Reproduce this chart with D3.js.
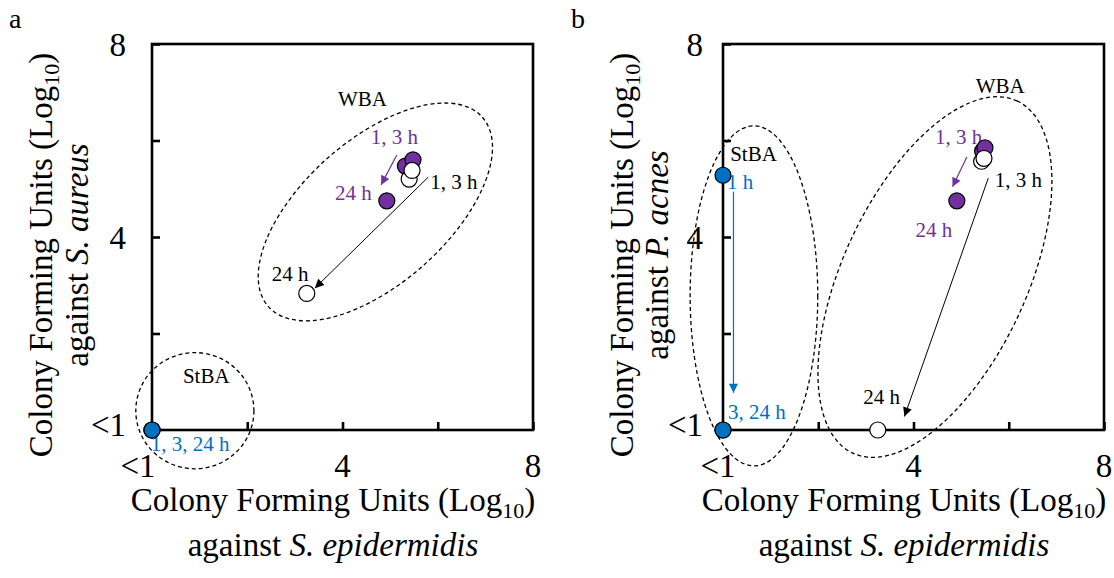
<!DOCTYPE html>
<html><head><meta charset="utf-8">
<script src="https://cdn.jsdelivr.net/npm/d3@7"></script>
<style>
body{margin:0;background:#fff;}
svg text{font-family:'Liberation Serif','Times New Roman','DejaVu Serif',serif;}
</style></head><body>
<svg id="chart" width="1114" height="578" font-family="Liberation Serif, Times New Roman, serif"></svg>
<script>
// ---------- data ----------
const timePoints = ["1 h", "3 h", "24 h"];
const tickValues = [0, 2, 4, 6, 8];
const xTickLabels = ["<1", "", "4", "", "8"];
const yTickLabels = ["<1", "", "4", "", "8"];

// Panel a: x = CFU vs S. epidermidis, y = CFU vs S. aureus (log10)
const aPurpleX = [5.48, 5.32, 4.93];
const aPurpleY = [5.60, 5.47, 4.75];
const aWhiteX  = [5.46, 5.40, 3.25];
const aWhiteY  = [5.38, 5.20, 2.83];
const aBlueX   = [0, 0, 0];
const aBlueY   = [0, 0, 0];

// Panel b: x = CFU vs S. epidermidis, y = CFU vs P. acnes (log10)
const bPurpleX = [5.50, 5.45, 4.91];
const bPurpleY = [5.85, 5.78, 4.75];
const bWhiteX  = [5.48, 5.43, 3.25];
const bWhiteY  = [5.63, 5.57, 0];
const bBlueX   = [0, 0, 0];
const bBlueY   = [5.28, 0, 0];

const PURPLE = "#7030A0", BLUE = "#0070C0";
const FONT = "'Liberation Serif','Times New Roman',serif";
const AX_FS = 33, ANN_FS = 21;

const svg = d3.select("#chart");
const defs = svg.append("defs");
[["black","#000"],["purple",PURPLE],["blue",BLUE]].forEach(([id,c])=>{
  defs.append("marker").attr("id","ah-"+id)
    .attr("viewBox","0 0 10 10").attr("refX",10).attr("refY",5)
    .attr("markerWidth",12).attr("markerHeight",9)
    .attr("markerUnits","userSpaceOnUse").attr("orient","auto")
    .append("path").attr("d","M0,0L10,5L0,10Z").attr("fill",c);
});

const panels = [
  {
    letter:"a", letterX:9, left:152, top:44, w:381, h:386,
    yOrg:"aureus", ySpecies:"S. ", yTitleX:[52, 88], yTitleY:255,
    xLabelShift:-14, yLabelRight:126, xTitleX:333,
    purple:[aPurpleX,aPurpleY], white:[aWhiteX,aWhiteY], blue:[aBlueX,aBlueY],
    ellipses:[
      {cx:4.69, cy:4.52, a:3.00, b:1.51, rot:-41.5},
      {cx:0.90, cy:0.40, a:1.24, b:1.22, rot:0}
    ],
    texts:[
      {t:"WBA", x:4.42, y:6.86, c:"#000"},
      {t:"1, 3 h", x:5.09, y:6.07, c:PURPLE},
      {t:"24 h", x:4.23, y:4.91, c:PURPLE},
      {t:"1, 3 h", x:6.34, y:5.15, c:"#000"},
      {t:"24 h", x:2.90, y:3.25, c:"#000"},
      {t:"StBA", x:1.14, y:1.12, c:"#000"},
      {t:"1, 3, 24 h", x:0.80, y:-0.29, c:BLUE}
    ],
    arrows:[
      {x1:5.14, y1:5.70, x2:4.81, y2:5.08, c:"purple", col:PURPLE, w:1.2},
      {x1:5.80, y1:5.24, x2:3.42, y2:2.94, c:"black", col:"#000", w:1}
    ]
  },
  {
    letter:"b", letterX:571, left:723, top:44, w:381, h:386,
    yOrg:"acnes", ySpecies:"P. ", yTitleX:[633, 668], yTitleY:255,
    xLabelShift:-5, yLabelRight:703, xTitleX:904,
    purple:[bPurpleX,bPurpleY], white:[bWhiteX,bWhiteY], blue:[bBlueX,bBlueY],
    ellipses:[
      {cx:4.45, cy:3.17, a:4.08, b:1.93, rot:-65},
      {cx:0.65, cy:2.78, a:1.34, b:3.57, rot:0}
    ],
    texts:[
      {t:"WBA", x:5.82, y:7.13, c:"#000"},
      {t:"1, 3 h", x:4.95, y:6.08, c:PURPLE},
      {t:"24 h", x:4.43, y:4.15, c:PURPLE},
      {t:"1, 3 h", x:6.20, y:5.18, c:"#000"},
      {t:"24 h", x:3.33, y:0.70, c:"#000"},
      {t:"StBA", x:0.64, y:5.72, c:"#000"},
      {t:"1 h", x:0.36, y:5.14, c:BLUE},
      {t:"3, 24 h", x:0.71, y:0.38, c:BLUE}
    ],
    arrows:[
      {x1:5.12, y1:5.66, x2:4.82, y2:5.04, c:"purple", col:PURPLE, w:1.2},
      {x1:5.57, y1:5.22, x2:3.81, y2:0.28, c:"black", col:"#000", w:1},
      {x1:0.22, y1:4.94, x2:0.22, y2:0.77, c:"blue", col:BLUE, w:1.2}
    ]
  }
];

function T(sel){ return sel.append("text").attr("font-family",FONT); }

panels.forEach(p=>{
  const x = d3.scaleLinear().domain([0,8]).range([p.left, p.left+p.w]);
  const y = d3.scaleLinear().domain([0,8]).range([p.top+p.h, p.top]);
  const g = svg.append("g");
  const ux = x(1)-x(0);

  T(svg).attr("x", p.letterX).attr("y",28).attr("font-size",28).text(p.letter);

  p.ellipses.forEach(e=>{
    const cx=x(e.cx), cy=y(e.cy);
    g.append("ellipse").attr("cx",cx).attr("cy",cy)
      .attr("rx",e.a*ux).attr("ry",e.b*ux)
      .attr("transform",`rotate(${e.rot},${cx},${cy})`)
      .attr("fill","none").attr("stroke","#000").attr("stroke-width",1.3)
      .attr("stroke-dasharray","4,3");
  });

  g.append("rect").attr("x",p.left).attr("y",p.top).attr("width",p.w).attr("height",p.h)
    .attr("fill","none").attr("stroke","#000").attr("stroke-width",2.6);

  const xAxis = d3.axisTop(x).tickValues(tickValues).tickSize(8).tickFormat("");
  const gx = g.append("g").attr("transform",`translate(0,${p.top+p.h})`).call(xAxis);
  gx.select(".domain").remove();
  gx.selectAll("line").attr("stroke","#000").attr("stroke-width",2.6);
  const yAxis = d3.axisRight(y).tickValues(tickValues).tickSize(8).tickFormat("");
  const gy = g.append("g").attr("transform",`translate(${p.left},0)`).call(yAxis);
  gy.select(".domain").remove();
  gy.selectAll("line").attr("stroke","#000").attr("stroke-width",2.6);

  tickValues.forEach((v,i)=>{
    if(xTickLabels[i]) T(g).attr("x", x(v)+(i===0?p.xLabelShift:0)).attr("y", p.top+p.h+47)
      .attr("text-anchor","middle").attr("font-size",AX_FS).text(xTickLabels[i]);
    if(yTickLabels[i]) T(g).attr("x", p.yLabelRight).attr("y", y(v)+(i===0?-6:0))
      .attr("dy","0.35em").attr("text-anchor","end").attr("font-size",AX_FS).text(yTickLabels[i]);
  });

  const xt1 = T(g).attr("x",p.xTitleX).attr("y",511).attr("text-anchor","middle").attr("font-size",AX_FS);
  xt1.append("tspan").text("Colony Forming Units (Log");
  xt1.append("tspan").attr("font-size",22).attr("dy",7).text("10");
  xt1.append("tspan").attr("dy",-7).text(")");
  const xt2 = T(g).attr("x",p.xTitleX).attr("y",556).attr("text-anchor","middle").attr("font-size",AX_FS);
  xt2.append("tspan").text("against ");
  xt2.append("tspan").attr("font-style","italic").text("S. epidermidis");

  const yt1 = T(g).attr("transform",`translate(${p.yTitleX[0]},${p.yTitleY}) rotate(-90)`)
    .attr("text-anchor","middle").attr("font-size",AX_FS);
  yt1.append("tspan").text("Colony Forming Units (Log");
  yt1.append("tspan").attr("font-size",22).attr("dy",7).text("10");
  yt1.append("tspan").attr("dy",-7).text(")");
  const yt2 = T(g).attr("transform",`translate(${p.yTitleX[1]},${p.yTitleY}) rotate(-90)`)
    .attr("text-anchor","middle").attr("font-size",AX_FS);
  yt2.append("tspan").text("against ");
  yt2.append("tspan").attr("font-style","italic").text(p.ySpecies + p.yOrg);

  p.arrows.forEach(a=>{
    g.append("line").attr("x1",x(a.x1)).attr("y1",y(a.y1)).attr("x2",x(a.x2)).attr("y2",y(a.y2))
      .attr("stroke",a.col).attr("stroke-width",a.w).attr("marker-end",`url(#ah-${a.c})`);
  });

  p.texts.forEach(t=>{
    T(g).attr("x",x(t.x)).attr("y",y(t.y)).attr("dy","0.35em")
      .attr("text-anchor","middle").attr("font-size",ANN_FS).attr("fill",t.c).text(t.t);
  });

  const series = [
    {d:p.purple, fill:PURPLE},
    {d:p.white, fill:"#fff"},
    {d:p.blue, fill:BLUE}
  ];
  series.forEach(s=>{
    const pts = timePoints.map((tp,i)=>({t:tp, x:s.d[0][i], y:s.d[1][i]}));
    g.append("g").selectAll("circle").data(pts.slice().reverse()).join("circle")
      .attr("cx",d=>x(d.x)).attr("cy",d=>y(d.y)).attr("r",8)
      .attr("fill",s.fill).attr("stroke","#000").attr("stroke-width",1.2);
  });
});
</script>
</body></html>
